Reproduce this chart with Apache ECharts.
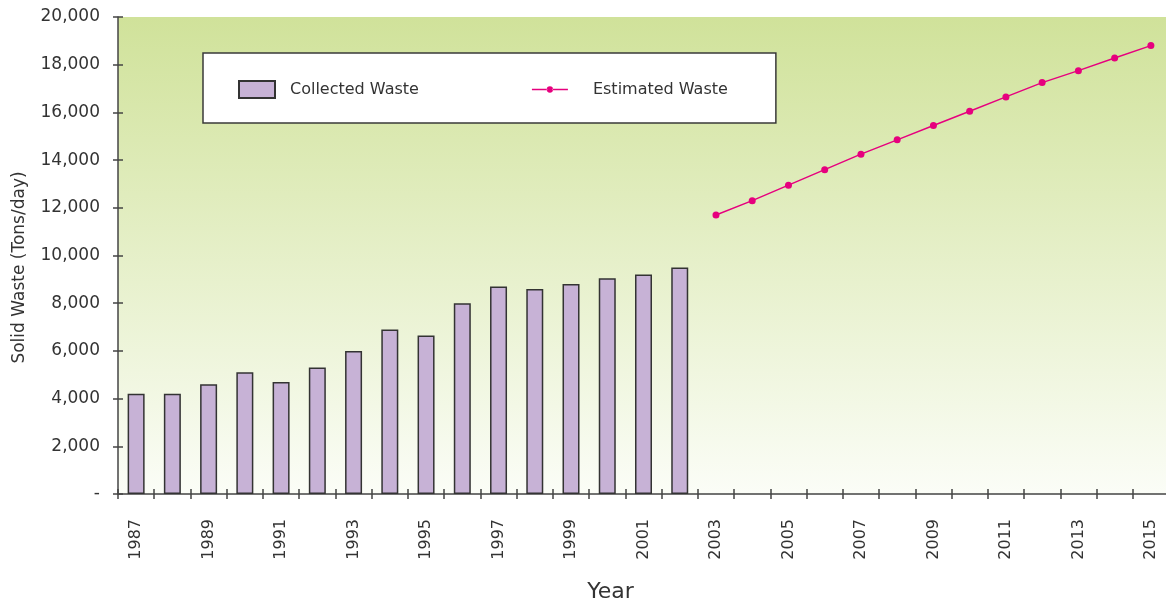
<!DOCTYPE html>
<html><head><meta charset="utf-8">
<script src="https://cdn.jsdelivr.net/npm/echarts@6/dist/echarts.min.js"></script>
<style>html,body{margin:0;padding:0;background:#fff}#c{width:1166px;height:608px}</style>
</head><body><div id="c"></div>
<script>
const years = ['1987','1988','1989','1990','1991','1992','1993','1994','1995','1996','1997','1998','1999','2000','2001','2002','2003','2004','2005','2006','2007','2008','2009','2010','2011','2012','2013','2014','2015'];
const collectedWaste = [4200,4200,4600,5100,4700,5300,6000,6900,6650,8000,8700,8600,8800,9050,9200,9500,null,null,null,null,null,null,null,null,null,null,null,null,null];
const estimatedWaste = [null,null,null,null,null,null,null,null,null,null,null,null,null,null,null,null,11700,12300,12950,13600,14250,14850,15450,16050,16650,17250,17750,18280,18800];
const yTicks = [0,2000,4000,6000,8000,10000,12000,14000,16000,18000,20000];

const font = 'DejaVu Sans, Verdana, sans-serif';
const lineIcon = 'path://M0,0 L0.01,0 L0,0.01 Z M40,17 L39.99,17 L40,16.99 Z M0,7.8 L17,7.8 L17,9.2 L0,9.2 Z M23,7.8 L40,7.8 L40,9.2 L23,9.2 Z M16.5,8.5 A3.5,3.5 0 1,0 23.5,8.5 A3.5,3.5 0 1,0 16.5,8.5 Z';
const chart = echarts.init(document.getElementById('c'));
chart.setOption({
  animation:false,
  backgroundColor:'#fff',
  grid:{left:118, top:17, width:1051, bottom:114, show:true, borderWidth:0, outerBoundsMode:'none', containLabel:false,
    backgroundColor:{type:'linear',x:0,y:0,x2:0,y2:1,colorStops:[{offset:0,color:'#d0e29a'},{offset:1,color:'#fbfdf7'}]}},
  legend:{
    left:203, top:53, orient:'horizontal',
    backgroundColor:'#fff', borderColor:'#3a3a3a', borderWidth:1.5, borderRadius:0,
    padding:[27,48,24,35], itemGap:113, itemWidth:36, itemHeight:17,
    textStyle:{fontFamily:font, fontSize:16, color:'#333', padding:[0,0,0,10]},
    data:[{name:'Collected Waste', icon:'rect'},
          {name:'Estimated Waste', icon:lineIcon, textStyle:{padding:[0,0,0,20]}}]
  },
  xAxis:[{
    type:'category', data:years, boundaryGap:true,
    axisLine:{lineStyle:{color:'#444', width:1.5}},
    axisTick:{show:true, interval:0, length:5, lineStyle:{color:'#444', width:1.5}},
    axisLabel:{interval:1, rotate:90, margin:25, fontFamily:font, fontSize:16, color:'#333'},
    name:'Year', nameLocation:'middle', nameGap:87,
    nameTextStyle:{fontFamily:font, fontSize:22, color:'#333', padding:[0,66,0,0]}
  },{
    type:'category', data:years, position:'bottom', boundaryGap:true,
    axisLine:{show:false}, axisLabel:{show:false},
    axisTick:{show:true, inside:true, interval:0, length:5, lineStyle:{color:'#444', width:1.5}}
  }],
  yAxis:[{
    type:'value', min:0, max:20000, interval:2000,
    axisLine:{show:true, lineStyle:{color:'#444', width:1.5}},
    axisTick:{show:true, length:5, lineStyle:{color:'#444', width:1.5}},
    splitLine:{show:false},
    axisLabel:{margin:18, fontFamily:font, fontSize:17, color:'#333',
      formatter:v=> v===0 ? '-' : v.toLocaleString('en-US')},
    name:'Solid Waste (Tons/day)', nameLocation:'middle', nameGap:90, nameRotate:90,
    nameTextStyle:{fontFamily:font, fontSize:17, color:'#333', padding:[0,24,0,0]}
  },{
    type:'value', min:0, max:20000, interval:2000, position:'left',
    axisLine:{show:false}, axisLabel:{show:false}, splitLine:{show:false},
    axisTick:{show:true, inside:true, length:5, lineStyle:{color:'#444', width:1.5}}
  }],
  series:[{
    name:'Collected Waste', type:'bar', data:collectedWaste, barWidth:17,
    itemStyle:{color:'#c7b2d6', borderColor:'#333', borderWidth:1.5}
  },{
    name:'Estimated Waste', type:'line', data:estimatedWaste,
    symbol:'circle', symbolSize:7, showSymbol:true,
    lineStyle:{color:'#e6007e', width:1.5}, itemStyle:{color:'#e6007e'}
  }]
});
</script></body></html>
